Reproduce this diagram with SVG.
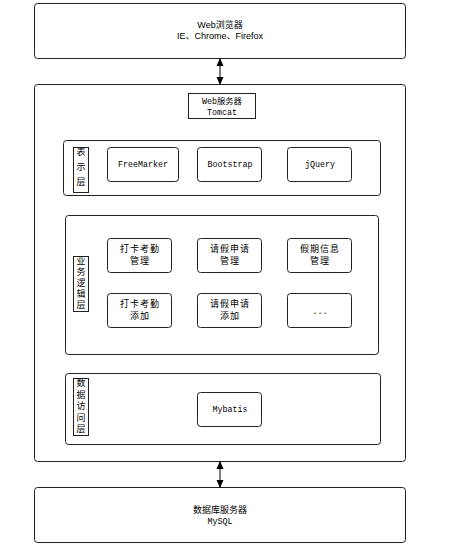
<svg xmlns="http://www.w3.org/2000/svg" width="467" height="551" viewBox="0 0 467 551">
<defs>
<style>
.box{fill:#fff;stroke:#222;stroke-width:1}
.lbl{fill:#fff;stroke:#222;stroke-width:1}
.t{font-family:"Liberation Sans","Noto Sans CJK SC",sans-serif;font-size:9px;fill:#000;text-anchor:middle}
.m{font-family:"Liberation Mono","Noto Sans CJK SC",monospace;font-size:8.3px;fill:#000;text-anchor:middle}
.c{font-family:"Noto Sans CJK SC",sans-serif;font-size:9px;fill:#000;text-anchor:middle;letter-spacing:1px}
.v{font-family:"Noto Sans CJK SC",sans-serif;font-size:9px;fill:#000;text-anchor:middle;writing-mode:vertical-rl;text-orientation:upright}
.con{stroke:#000;stroke-width:1;fill:none;marker-start:url(#a);marker-end:url(#a)}
</style>
<marker id="a" viewBox="0 0 8 8" refX="7" refY="4" markerWidth="8" markerHeight="8" orient="auto-start-reverse" markerUnits="userSpaceOnUse">
<path d="M0,0.5 L8,4 L0,7.5 Z" fill="#000"/>
</marker>
</defs>
<g id="browser">
<rect class="box" x="34.5" y="3.5" width="371" height="55" rx="3"/>
<text class="t" x="220" y="28">Web浏览器</text>
<text class="t" x="220" y="39">IE、Chrome、Firefox</text>
</g>
<g id="server">
<rect class="box" x="34.5" y="84.5" width="371" height="377" rx="3"/>
<rect class="lbl" x="188.5" y="93.5" width="67" height="25"/>
<text class="m" x="222" y="104">Web服务器</text>
<text class="m" x="222" y="115">Tomcat</text>
</g>
<g id="presentation">
<rect class="box" x="63.5" y="140.5" width="317" height="55" rx="3"/>
<rect class="lbl" x="73.5" y="147.5" width="15" height="45"/>
<text class="v" x="81" y="170" style="letter-spacing:6px">表示层</text>
</g>
<g id="freemarker"><rect class="box" x="107.5" y="147.5" width="71" height="34" rx="3"/><text class="m" x="143" y="167">FreeMarker</text></g>
<g id="bootstrap"><rect class="box" x="197.5" y="147.5" width="64" height="34" rx="3"/><text class="m" x="230" y="167">Bootstrap</text></g>
<g id="jquery"><rect class="box" x="287.5" y="147.5" width="64" height="34" rx="3"/><text class="m" x="320" y="167">jQuery</text></g>
<g id="business">
<rect class="box" x="65.5" y="215.5" width="313" height="139" rx="3"/>
<rect class="lbl" x="73.5" y="256.5" width="15" height="55"/>
<text class="v" x="81" y="284" style="letter-spacing:2px">业务逻辑层</text>
</g>
<g id="b1"><rect class="box" x="107.5" y="238.5" width="64" height="34" rx="3"/><text class="c" x="140" y="252">打卡考勤</text><text class="c" x="140" y="264">管理</text></g>
<g id="b2"><rect class="box" x="197.5" y="238.5" width="64" height="34" rx="3"/><text class="c" x="230" y="252">请假申请</text><text class="c" x="230" y="264">管理</text></g>
<g id="b3"><rect class="box" x="287.5" y="238.5" width="64" height="34" rx="3"/><text class="c" x="320" y="252">假期信息</text><text class="c" x="320" y="264">管理</text></g>
<g id="b4"><rect class="box" x="107.5" y="293.5" width="64" height="34" rx="3"/><text class="c" x="140" y="307">打卡考勤</text><text class="c" x="140" y="319">添加</text></g>
<g id="b5"><rect class="box" x="197.5" y="293.5" width="64" height="34" rx="3"/><text class="c" x="230" y="307">请假申请</text><text class="c" x="230" y="319">添加</text></g>
<g id="b6"><rect class="box" x="287.5" y="293.5" width="64" height="34" rx="3"/><text class="m" x="320" y="314">...</text></g>
<g id="dataaccess">
<rect class="box" x="65.5" y="373.5" width="315" height="71" rx="3"/>
<rect class="lbl" x="73.5" y="378.5" width="15" height="57"/>
<text class="v" x="81" y="407" style="letter-spacing:2.5px">数据访问层</text>
</g>
<g id="mybatis"><rect class="box" x="197.5" y="392.5" width="64" height="34" rx="3"/><text class="m" x="230" y="412">Mybatis</text></g>
<g id="db">
<rect class="box" x="34.5" y="487.5" width="371" height="55" rx="3"/>
<text class="t" x="220" y="513">数据库服务器</text>
<text class="m" x="220" y="524">MySQL</text>
</g>
<g id="connectors">
<line class="con" x1="220" y1="59" x2="220" y2="84"/>
<line class="con" x1="220" y1="462" x2="220" y2="487"/>
</g>
</svg>
